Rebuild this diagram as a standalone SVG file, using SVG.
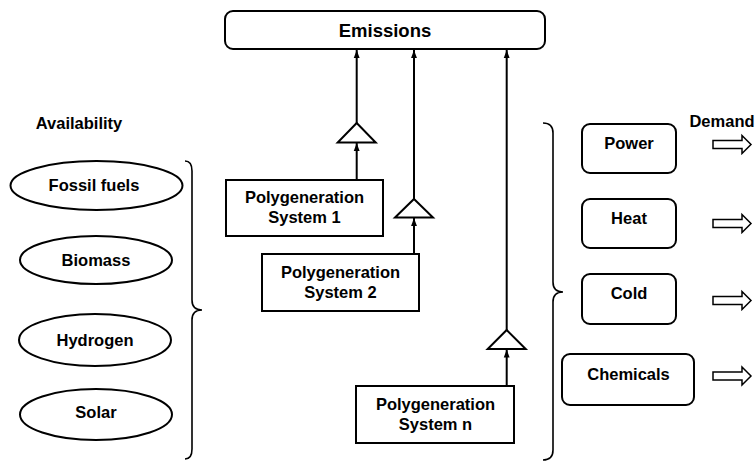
<svg xmlns="http://www.w3.org/2000/svg" width="755" height="462" viewBox="0 0 755 462">
<style>
text{font-family:"Liberation Sans",Arial,sans-serif;font-weight:bold;font-size:16.5px;fill:#000;text-anchor:middle}
.box{fill:#fff;stroke:#000;stroke-width:2}
.ln{fill:none;stroke:#000;stroke-width:2}
.br{fill:none;stroke:#000;stroke-width:1.6}
.tri{fill:#fff;stroke:#000;stroke-width:2;stroke-linejoin:miter}
.dem{fill:#fff;stroke:#000;stroke-width:1.5}
</style>
<defs>
<marker id="ah" markerUnits="userSpaceOnUse" markerWidth="8" markerHeight="12" refX="11" refY="4" orient="auto" viewBox="0 0 11 8">
<path d="M0,0 L11,4 L0,8 z" fill="#000"/>
</marker>
<path id="demArrow" d="M713,-4 H742 V-9 L751,0 L742,9 V4 H713 Z"/>
</defs>

<g id="emissions">
<rect class="box" x="225" y="11" width="320" height="38" rx="8"/>
<text x="385" y="37" style="font-size:18.5px">Emissions</text>
</g>

<g id="availability-label"><text x="79" y="129">Availability</text></g>
<g id="fossil"><ellipse class="box" cx="96.5" cy="185.5" rx="86" ry="24.5"/><text x="94" y="191">Fossil fuels</text></g>
<g id="biomass"><ellipse class="box" cx="96" cy="260" rx="76" ry="24"/><text x="96" y="266">Biomass</text></g>
<g id="hydrogen"><ellipse class="box" cx="95" cy="340" rx="76" ry="26"/><text x="95" y="346">Hydrogen</text></g>
<g id="solar"><ellipse class="box" cx="96" cy="414.5" rx="76" ry="25.5"/><text x="96" y="418">Solar</text></g>

<g id="brace-left"><path class="br" d="M185,161 Q192,161 192,171 V300 Q192,310 202,310 Q192,310 192,320 V449 Q192,459 185,459"/></g>
<g id="brace-right"><path class="br" d="M543,123 Q553,123 553,133 V282 Q553,292 563,292 Q553,292 553,302 V450 Q553,460 543,460"/></g>

<g id="sys1"><rect class="box" x="226" y="180" width="157" height="56"/><text x="304.5" y="203">Polygeneration</text><text x="304.5" y="223">System 1</text></g>
<g id="sys2"><rect class="box" x="262" y="254" width="157" height="57"/><text x="340.5" y="278">Polygeneration</text><text x="340.5" y="298">System 2</text></g>
<g id="sysn"><rect class="box" x="356" y="386" width="158" height="57"/><text x="435.5" y="410">Polygeneration</text><text x="435.5" y="430">System n</text></g>

<g id="tri1"><path class="tri" d="M356.7,123 L375.7,142.5 L337.7,142.5 Z"/></g>
<g id="tri2"><path class="tri" d="M414,199 L433,217.5 L395,217.5 Z"/></g>
<g id="trin"><path class="tri" d="M506.7,330 L525.7,349 L487.7,349 Z"/></g>

<g id="connectors">
<line class="ln" x1="356.7" y1="123" x2="356.7" y2="50" marker-end="url(#ah)"/>
<line class="ln" x1="356.7" y1="180" x2="356.7" y2="143" marker-end="url(#ah)"/>
<line class="ln" x1="414" y1="199" x2="414" y2="50" marker-end="url(#ah)"/>
<line class="ln" x1="414" y1="254" x2="414" y2="218" marker-end="url(#ah)"/>
<line class="ln" x1="506.7" y1="330" x2="506.7" y2="50" marker-end="url(#ah)"/>
<line class="ln" x1="506.7" y1="386" x2="506.7" y2="349.5" marker-end="url(#ah)"/>
</g>

<g id="power"><rect class="box" x="582" y="124" width="94" height="49" rx="8"/><text x="629" y="149">Power</text></g>
<g id="heat"><rect class="box" x="582" y="199" width="94" height="49" rx="8"/><text x="629" y="224">Heat</text></g>
<g id="cold"><rect class="box" x="582" y="274" width="94" height="50" rx="8"/><text x="629" y="299">Cold</text></g>
<g id="chemicals"><rect class="box" x="562" y="354" width="132" height="51" rx="8"/><text x="628.5" y="380">Chemicals</text></g>

<g id="demand-label"><text x="722" y="127">Demand</text></g>
<g id="demand-arrows">
<use href="#demArrow" class="dem" transform="translate(0,144.5)"/>
<use href="#demArrow" class="dem" transform="translate(0,223.5)"/>
<use href="#demArrow" class="dem" transform="translate(0,300.5)"/>
<use href="#demArrow" class="dem" transform="translate(0,376)"/>
</g>
</svg>
